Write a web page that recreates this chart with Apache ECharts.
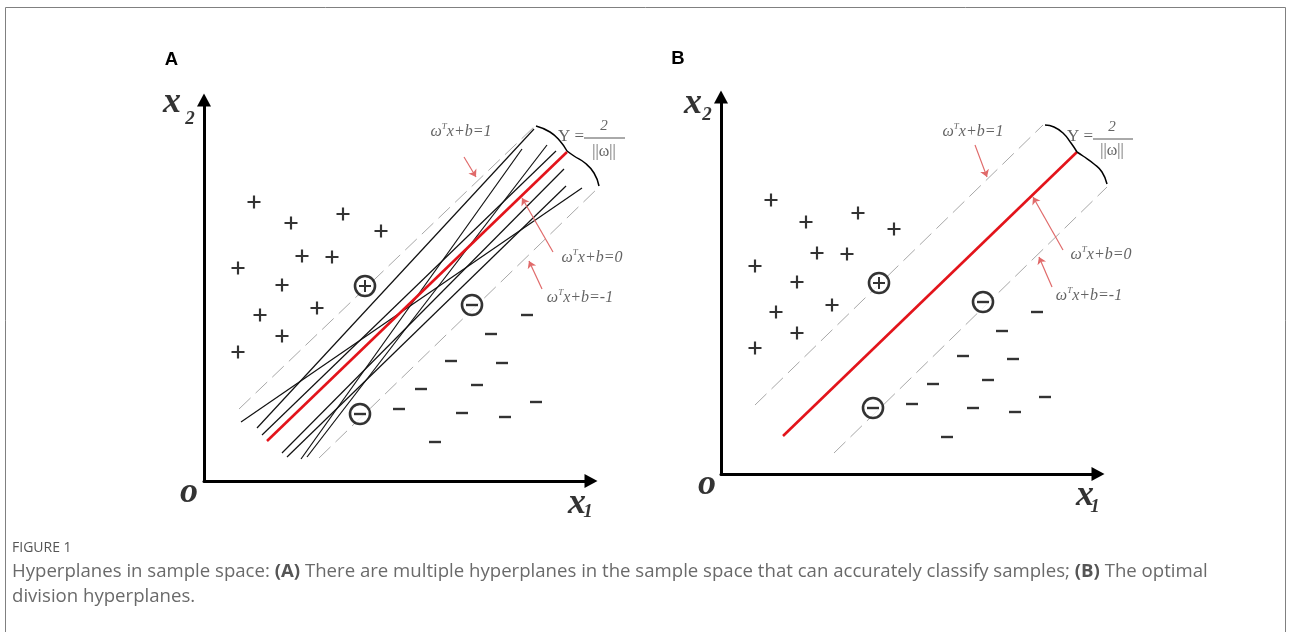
<!DOCTYPE html>
<html><head><meta charset="utf-8">
<script src="https://cdn.jsdelivr.net/npm/echarts@6/dist/echarts.min.js"></script>
<style>html,body{margin:0;padding:0;background:#fff}#c{width:1290px;height:632px}</style>
</head><body><div id="c"></div>
<script>
// ===== Panel A (units: pixels measured from the panel origin) =====
const plusA = [[50,279],[87,258],[139,267],[177,250],[98,225],[128,224],[34,213],[78,196],[113,173],[56,166],[78,145],[34,129]];
const minusA = [[323,166],[287,147],[247,120],[298,118],[273,96],[217,92],[332,79],[195,72],[258,68],[301,64],[231,39]];
const circlePlusA = [[161,195]];
const circleMinusA = [[268,176],[156,67]];
const redA = [[63,40],[363,329]];
const dashUpperA = [[35,72],[332,356]];
const dashLowerA = [[115,23],[395,294]];
const hyperA = [
  [[37,59],[378,293]],
  [[53,53],[330,352]],
  [[58,46],[352,330]],
  [[78,28],[360,312]],
  [[83,24],[362,295]],
  [[97,22],[318,332]],
  [[103,24],[343,336]]
];
const braceA1 = [[332,355],[346,349],[356,340],[363,330]];
const braceA2 = [[363,330],[370,325],[381,318],[390,308],[395,295]];
const fracBarA = [[380,343],[421,343]];
const arrowsA = [
  [[260,324],[272,304]],
  [[349,229],[318,283]],
  [[338,192],[325,220]]
];
const labelsA = [
  [257,349,'ωᵀx+b=1','eq'],
  [388,223,'ωᵀx+b=0','eq'],
  [376,183,'ωᵀx+b=-1','eq'],
  [367,344,'Υ =','up'],
  [400,355,'2','num'],
  [400,329,'||ω||','norm'],
  [-32,378,'x','ax'],
  [-14,362,'2','sub'],
  [-15,-12,'o','ax'],
  [373,-23,'x','ax'],
  [384,-31,'1','sub']
];

// ===== Panel B =====
const plusB = [[50,274],[85,252],[137,261],[173,245],[96,221],[126,220],[34,208],[76,192],[111,169],[55,162],[76,141],[34,126]];
const minusB = [[316,162],[281,143],[242,118],[292,115],[267,94],[212,90],[324,77],[191,70],[252,66],[294,62],[226,37]];
const circlePlusB = [[158,191]];
const circleMinusB = [[262,172],[152,66]];
const redB = [[62,38],[356,322]];
const dashUpperB = [[34,69],[322,349]];
const dashLowerB = [[113,21],[386,287]];
const hyperB = [];
const braceB1 = [[324,349],[333,347],[342,341],[350,331],[356,322]];
const braceB2 = [[356,322],[362,318],[373,310],[381,302],[386,290]];
const fracBarB = [[372,335],[412,335]];
const arrowsB = [
  [[254,329],[266,297]],
  [[342,224],[312,277]],
  [[331,187],[318,217]]
];
const labelsB = [
  [252,342,'ωᵀx+b=1','eq'],
  [380,219,'ωᵀx+b=0','eq'],
  [368,178,'ωᵀx+b=-1','eq'],
  [359,337,'Υ =','up'],
  [391,347,'2','num'],
  [391,323,'||ω||','norm'],
  [-28,370,'x','ax'],
  [-14,359,'2','sub'],
  [-14,-11,'o','ax'],
  [364,-22,'x','ax'],
  [374,-33,'1','sub']
];

const captionLine1 = ['Hyperplanes in sample space: ', '(A)', ' There are multiple hyperplanes in the sample space that can accurately classify samples; ', '(B)', ' The optimal'];
const captionLine2 = 'division hyperplanes.';

// ===== styles =====
const SERIF = "'Liberation Serif','Times New Roman',serif";
const RICH = {
  e: {fontFamily: SERIF, fontStyle: 'italic', fontSize: 16, color: '#3c3c3c', lineHeight: 20},
  s: {fontFamily: SERIF, fontStyle: 'italic', fontSize: 9, color: '#3c3c3c', lineHeight: 10, verticalAlign: 'top'},
  up: {fontFamily: SERIF, fontSize: 17, color: '#3c3c3c'},
  num: {fontFamily: SERIF, fontStyle: 'italic', fontSize: 15, color: '#3c3c3c'},
  norm: {fontFamily: SERIF, fontSize: 16, color: '#3c3c3c'},
  ax: {fontFamily: SERIF, fontStyle: 'italic', fontWeight: 'bold', fontSize: 36, color: '#000'},
  sub: {fontFamily: SERIF, fontStyle: 'italic', fontWeight: 'bold', fontSize: 19, color: '#000'}
};
function fmt(text, kind) {
  if (kind === 'eq') {
    const p = text.split('ᵀ');
    return '{e|' + p[0] + '}{s|T}{e|' + p[1] + '}';
  }
  return '{' + kind + '|' + text + '}';
}
const PLUS = 'path://M5,0H7V5H12V7H7V12H5V7H0V5H5Z';

function panelSeries(i, P) {
  const ax = {xAxisIndex: i, yAxisIndex: i, silent: true, animation: false};
  const s = [];
  const line = (data, style, z, extra) => Object.assign({type: 'line', data, clip: false, symbol: 'none', showSymbol: false, lineStyle: style, z}, ax, extra || {});
  s.push(line(P.dashUpper, {color: '#a8a8a8', width: 1, type: [16, 7]}, 2));
  s.push(line(P.dashLower, {color: '#a8a8a8', width: 1, type: [16, 7]}, 2));
  P.hyper.forEach(h => s.push(line(h, {color: '#111', width: 1.2}, 3)));
  s.push(line(P.red, {color: '#e3141b', width: 2.6}, 4));
  s.push(line(P.brace1, {color: '#000', width: 1.5}, 4, {smooth: 0.5}));
  s.push(line(P.brace2, {color: '#000', width: 1.5}, 4, {smooth: 0.5}));
  s.push(line(P.fracBar, {color: '#555', width: 1}, 4));
  s.push(Object.assign({type: 'lines', coordinateSystem: 'cartesian2d', data: P.arrows.map(a => ({coords: a})),
    symbol: ['none', 'arrow'], symbolSize: 7, lineStyle: {color: '#e06a6a', width: 1.2, opacity: 1, curveness: 0}, z: 5}, ax));
  const sc = (data, symbol, size, style, z) => Object.assign({type: 'scatter', data, symbol, symbolSize: size, clip: false, itemStyle: style, z}, ax);
  s.push(sc(P.plus, PLUS, 13, {color: '#000'}, 6));
  s.push(sc(P.minus, 'rect', [12, 2.4], {color: '#000'}, 6));
  s.push(sc(P.circlePlus.concat(P.circleMinus), 'circle', 20, {color: '#fff', borderColor: '#000', borderWidth: 2.6}, 6));
  s.push(sc(P.circlePlus, PLUS, 12, {color: '#000'}, 7));
  s.push(sc(P.circleMinus, 'rect', [12, 2.4], {color: '#000'}, 7));
  s.push(Object.assign({type: 'scatter', symbol: 'circle', symbolSize: 1, clip: false, itemStyle: {color: 'rgba(0,0,0,0)'}, z: 8,
    label: {show: true, position: 'inside', align: 'center', verticalAlign: 'middle', rich: RICH},
    data: P.labels.map(l => ({value: [l[0], l[1]], label: {formatter: fmt(l[2], l[3])}}))}, ax));
  return s;
}

const PA = {plus: plusA, minus: minusA, circlePlus: circlePlusA, circleMinus: circleMinusA, red: redA, dashUpper: dashUpperA, dashLower: dashLowerA,
  hyper: hyperA, brace1: braceA1, brace2: braceA2, fracBar: fracBarA, arrows: arrowsA, labels: labelsA};
const PB = {plus: plusB, minus: minusB, circlePlus: circlePlusB, circleMinus: circleMinusB, red: redB, dashUpper: dashUpperB, dashLower: dashLowerB,
  hyper: hyperB, brace1: braceB1, brace2: braceB2, fracBar: fracBarB, arrows: arrowsB, labels: labelsB};

// grids 0,1: visible axes with arrow heads; grids 2,3: same origin & scale (1 unit = 1 px), larger extent for the marks
const grids = [
  {left: 204, top: 100, width: 387, height: 381},
  {left: 721, top: 97, width: 377, height: 377},
  {left: 204, top: 40, width: 440, height: 441},
  {left: 721, top: 40, width: 430, height: 434}
];
function mkAxis(i, max) {
  return {type: 'value', gridIndex: i, min: 0, max: max,
    axisLine: {show: true, onZero: false, symbol: ['none', 'triangle'], symbolSize: [14, 13], lineStyle: {color: '#000', width: 3}},
    axisTick: {show: false}, axisLabel: {show: false}, splitLine: {show: false}};
}
function hiddenAxis(i, max) {
  return {type: 'value', gridIndex: i, min: 0, max: max, show: false, splitLine: {show: false}};
}

const chart = echarts.init(document.getElementById('c'), null, {renderer: 'canvas'});
chart.setOption({
  animation: false,
  backgroundColor: '#fff',
  grid: grids.map(g => Object.assign({outerBoundsMode: 'none', containLabel: false}, g)),
  xAxis: [mkAxis(0, 387), mkAxis(1, 377), hiddenAxis(2, 440), hiddenAxis(3, 430)],
  yAxis: [mkAxis(0, 381), mkAxis(1, 377), hiddenAxis(2, 441), hiddenAxis(3, 434)],
  series: panelSeries(2, PA).concat(panelSeries(3, PB)),
  graphic: [
    {type: 'rect', silent: true, shape: {x: 5.5, y: 7.5, width: 1280, height: 700}, style: {fill: 'none', stroke: '#808080', lineWidth: 1}},
    {type: 'text', silent: true, x: 171.5, y: 59.5, style: {text: 'A', fontFamily: "'Liberation Sans',Arial,sans-serif", fontWeight: 'bold', fontSize: 18.5, fill: '#000', align: 'center', verticalAlign: 'middle'}},
    {type: 'text', silent: true, x: 678, y: 58.5, style: {text: 'B', fontFamily: "'Liberation Sans',Arial,sans-serif", fontWeight: 'bold', fontSize: 18.5, fill: '#000', align: 'center', verticalAlign: 'middle'}},
    {type: 'text', silent: true, x: 12, y: 548.5, style: {text: 'FIGURE 1', fontFamily: "'Open Sans',sans-serif", fontSize: 14, fill: '#555', align: 'left', verticalAlign: 'middle'}},
    {type: 'text', silent: true, x: 12, y: 559, style: {
      text: '{n|' + captionLine1[0] + '}{b|' + captionLine1[1] + '}{n|' + captionLine1[2] + '}{b|' + captionLine1[3] + '}{n|' + captionLine1[4] + '}\n{n|' + captionLine2 + '}',
      align: 'left', verticalAlign: 'top',
      rich: {
        n: {fontFamily: "'Open Sans',sans-serif", fontSize: 18.6, fill: '#6a6a6a', lineHeight: 25},
        b: {fontFamily: "'Open Sans',sans-serif", fontSize: 18.6, fontWeight: 'bold', fill: '#555', lineHeight: 25}
      }}}
  ]
});
</script></body></html>
